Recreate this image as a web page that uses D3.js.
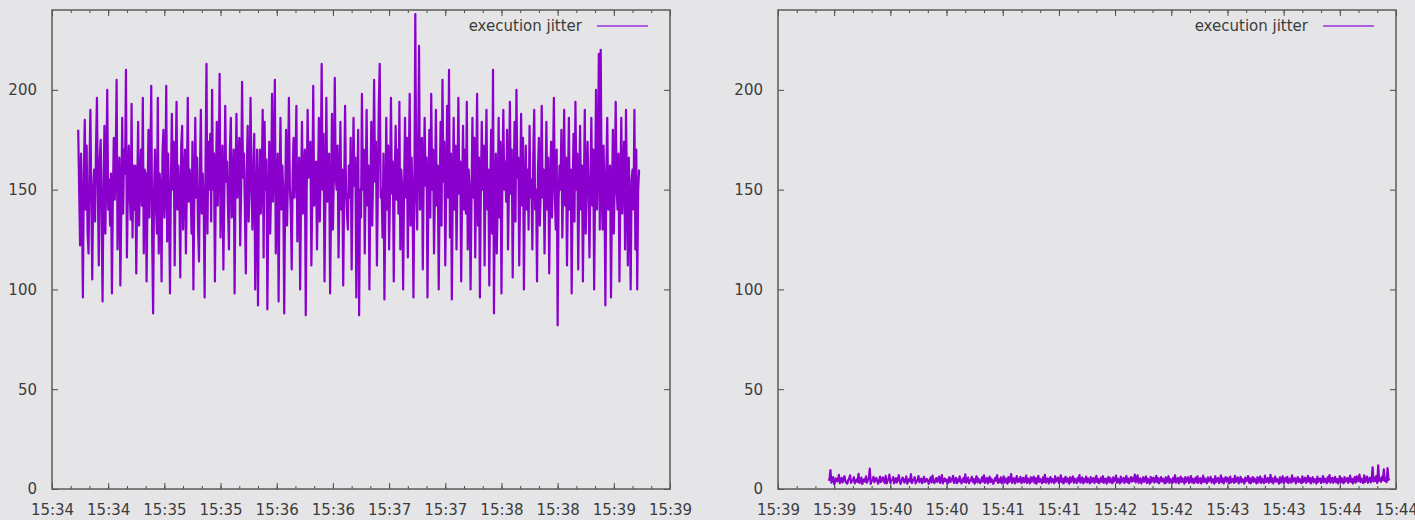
<!DOCTYPE html>
<html>
<head>
<meta charset="utf-8">
<script src="https://cdn.jsdelivr.net/npm/d3@7/dist/d3.min.js"></script>
<style>
    html, body { margin: 0; padding: 0; background: #e5e5e7; }
    svg { display: block; }
    text { font-family: "DejaVu Sans", sans-serif; font-size: 15px; fill: #3c3c3c; }
</style>
</head>
<body>
<script>
// two samples per second
const seriesName = "execution jitter";
const sampleMs = 500;

const leftStart = "15:34:14";
const leftDomain = ["15:34:00", "15:39:30"];
const leftValues = [
    180, 150, 122, 168, 140, 96, 158, 185, 140, 172, 128, 118, 160, 190, 145, 105, 150, 160, 134, 172,
    196, 148, 112, 165, 175, 138, 94, 150, 182, 128, 160, 200, 140, 155, 132, 158, 98, 146, 176, 145,
    162, 205, 120, 150, 166, 102, 140, 186, 138, 170, 158, 210, 116, 148, 172, 148, 135, 193, 126, 162,
    140, 162, 108, 150, 184, 132, 155, 170, 142, 196, 118, 160, 158, 104, 145, 180, 136, 162, 202, 124,
    88, 150, 170, 142, 128, 196, 118, 158, 150, 104, 168, 180, 136, 150, 202, 124, 168, 144, 98, 155,
    188, 150, 174, 112, 160, 194, 140, 162, 150, 106, 172, 182, 130, 155, 170, 118, 150, 196, 144, 160,
    152, 128, 174, 100, 145, 186, 146, 166, 130, 114, 160, 190, 138, 158, 142, 96, 165, 213, 128, 174,
    150, 178, 134, 200, 150, 168, 104, 155, 184, 142, 160, 208, 126, 150, 172, 110, 145, 192, 154, 164,
    140, 120, 170, 186, 136, 150, 170, 98, 155, 188, 146, 162, 176, 122, 150, 204, 156, 168, 140, 108,
    160, 182, 134, 150, 196, 160, 130, 158, 178, 100, 140, 170, 92, 150, 170, 138, 155, 190, 116, 184,
    150, 165, 90, 140, 174, 128, 150, 198, 144, 162, 205, 118, 145, 168, 94, 150, 186, 140, 162, 148,
    88, 145, 180, 132, 155, 196, 152, 140, 110, 158, 176, 146, 162, 192, 124, 150, 166, 100, 148, 184,
    138, 160, 170, 87, 150, 190, 156, 165, 174, 112, 148, 202, 142, 155, 164, 120, 150, 186, 134, 160,
    213, 150, 178, 104, 145, 196, 144, 160, 168, 98, 140, 188, 130, 158, 206, 156, 150, 172, 116, 150,
    184, 140, 160, 102, 148, 192, 150, 138, 130, 162, 146, 176, 110, 150, 186, 152, 166, 96, 150, 180,
    87, 150, 136, 198, 150, 170, 118, 155, 190, 142, 162, 100, 150, 184, 132, 160, 205, 154, 174, 112,
    150, 192, 213, 146, 150, 126, 168, 95, 140, 186, 140, 172, 120, 150, 196, 148, 164, 104, 155, 182,
    145, 170, 138, 194, 120, 160, 150, 100, 150, 186, 146, 176, 116, 160, 198, 132, 166, 150, 96, 150,
    238, 150, 130, 172, 222, 140, 146, 176, 110, 160, 186, 152, 166, 96, 150, 180, 136, 198, 150, 170,
    118, 150, 190, 142, 162, 100, 148, 184, 132, 205, 154, 174, 112, 150, 192, 146, 210, 126, 168, 95,
    150, 186, 140, 172, 120, 155, 196, 148, 164, 104, 150, 182, 140, 170, 138, 194, 120, 160, 150, 100,
    145, 186, 146, 176, 116, 155, 198, 132, 166, 96, 150, 184, 150, 172, 112, 160, 190, 140, 160, 102,
    150, 180, 128, 210, 88, 150, 168, 118, 145, 186, 136, 174, 98, 155, 190, 150, 164, 144, 180, 120,
    150, 194, 148, 170, 106, 150, 184, 134, 200, 156, 166, 112, 150, 188, 142, 176, 100, 150, 172, 140,
    160, 130, 182, 146, 155, 120, 168, 190, 140, 150, 104, 160, 176, 132, 150, 192, 146, 160, 118, 150,
    184, 140, 166, 108, 150, 174, 136, 160, 196, 148, 130, 170, 82, 145, 162, 150, 180, 126, 155, 190,
    142, 166, 112, 150, 186, 140, 160, 98, 150, 178, 134, 194, 150, 168, 110, 150, 182, 140, 162, 104,
    150, 190, 128, 160, 174, 146, 116, 155, 186, 142, 170, 100, 150, 200, 140, 160, 218, 130, 220, 150,
    130, 172, 150, 92, 160, 186, 140, 150, 162, 96, 145, 180, 128, 155, 194, 150, 140, 168, 104, 150,
    186, 138, 160, 174, 120, 190, 150, 112, 166, 140, 100, 155, 160, 140, 190, 120, 170, 100, 150, 160
];

const rightStart = "15:39:27";
const rightDomain = ["15:39:00", "15:44:30"];
const rightValues = [
    4.1, 5.0, 9.5, 3.2, 4.4, 6.0, 2.4, 3.9, 5.3, 3.8, 4.6, 7.1, 2.9, 4.2, 5.6, 3.3, 4.8, 6.4, 4.0, 3.1,
    2.7, 4.5, 5.2, 6.8, 3.1, 4.0, 4.5, 5.9, 2.8, 3.9, 4.8, 3.6, 7.6, 3.0, 4.3, 5.7, 2.5, 4.1, 4.9, 3.7,
    6.3, 3.2, 4.6, 5.1, 10.2, 2.6, 4.0, 4.4, 6.1, 3.4, 4.7, 5.5, 3.9, 2.7, 4.2, 6.2, 3.5, 4.4, 5.8, 4.2,
    3.0, 6.6, 2.8, 4.1, 5.0, 7.2, 3.1, 4.3, 4.6, 6.0, 2.9, 4.0, 5.4, 3.3, 4.6, 6.9, 4.1, 2.6, 4.3, 5.7,
    4.8, 3.2, 4.4, 6.3, 2.7, 4.0, 5.1, 3.8, 7.4, 3.0, 4.2, 4.7, 5.9, 2.8, 4.1, 4.3, 6.5, 3.4, 4.5, 5.2,
    2.9, 4.6, 6.1, 3.5, 4.2, 5.0, 4.0, 2.6, 4.4, 5.8, 3.3, 6.7, 4.2, 2.9, 4.1, 5.5, 3.6, 4.9, 6.2, 3.1,
    4.4, 7.0, 2.8, 4.0, 5.3, 3.9, 4.7, 2.7, 4.3, 6.0, 3.4, 5.1, 4.3, 6.6, 3.0, 4.2, 5.6, 2.9, 4.8, 3.7,
    6.3, 4.1, 2.8, 4.5, 5.4, 3.5, 7.3, 3.2, 4.6, 5.7, 2.9, 4.2, 4.4, 6.1, 3.6, 5.0, 2.7, 4.5, 6.4, 3.3,
    5.2, 4.0, 2.9, 4.3, 5.9, 3.7, 6.8, 3.1, 4.7, 5.5, 2.8, 4.3, 6.2, 3.4, 5.1, 3.9, 2.6, 4.2, 5.6, 4.1,
    6.9, 3.0, 4.8, 3.5, 5.8, 2.9, 4.4, 6.3, 3.2, 5.3, 4.0, 2.7, 6.0, 3.6, 4.9, 7.5, 3.1, 4.6, 5.4, 2.8,
    4.2, 6.5, 3.4, 5.0, 3.8, 6.1, 2.9, 4.7, 5.6, 3.3, 4.1, 6.7, 3.0, 5.2, 4.4, 2.8, 5.9, 3.7, 4.9, 6.2,
    3.1, 5.5, 2.7, 4.3, 6.6, 3.5, 5.1, 4.0, 2.9, 5.8, 3.6, 7.1, 3.2, 4.8, 5.3, 2.8, 4.5, 6.0, 3.3, 5.0,
    4.2, 2.9, 6.4, 3.8, 4.6, 5.7, 3.0, 4.1, 6.9, 3.4, 5.2, 2.8, 4.7, 6.1, 3.5, 5.4, 4.0, 2.7, 5.9, 3.6,
    4.8, 6.3, 3.1, 5.1, 4.3, 2.9, 5.6, 3.9, 7.0, 3.2, 4.5, 5.8, 2.8, 4.9, 3.7, 6.2, 3.3, 5.3, 4.1, 2.8,
    6.0, 3.5, 4.7, 5.5, 3.0, 4.4, 6.6, 3.4, 5.0, 2.9, 4.2, 5.7, 3.6, 6.4, 3.1, 4.8, 5.2, 2.7, 4.6, 6.1,
    3.3, 5.4, 4.0, 2.9, 5.8, 3.8, 4.5, 6.7, 3.2, 5.1, 4.3, 2.8, 6.2, 3.5, 4.9, 5.6, 3.0, 4.4, 6.5, 3.4,
    5.2, 2.9, 4.7, 6.0, 3.7, 5.5, 4.1, 7.2, 3.3, 5.0, 6.8, 3.1, 4.6, 5.3, 2.8, 4.2, 5.9, 3.6, 4.8, 6.3,
    3.0, 5.1, 4.4, 2.7, 6.1, 3.5, 4.9, 5.7, 3.2, 4.3, 6.6, 3.4, 5.4, 2.9, 4.7, 6.0, 3.8, 5.2, 4.0, 2.8,
    5.8, 3.3, 4.6, 6.4, 3.1, 5.0, 4.2, 2.9, 5.6, 3.7, 6.9, 3.2, 4.8, 5.5, 2.8, 4.4, 6.2, 3.5, 5.3, 4.1,
    2.7, 6.0, 3.6, 4.7, 5.9, 3.0, 4.3, 6.5, 3.4, 5.1, 2.9, 4.5, 5.7, 3.3, 6.3, 3.1, 4.9, 5.4, 2.8, 4.2,
    6.7, 3.5, 5.2, 4.0, 2.9, 5.8, 3.8, 4.6, 6.1, 3.2, 5.0, 4.4, 2.7, 6.4, 3.6, 4.8, 5.5, 3.0, 4.1, 6.8,
    3.4, 5.3, 2.8, 4.5, 6.0, 3.7, 5.6, 4.2, 2.9, 6.2, 3.3, 4.7, 5.1, 3.1, 6.6, 3.5, 4.9, 5.8, 2.8, 4.3,
    6.1, 3.4, 5.0, 4.1, 2.7, 5.7, 3.9, 4.6, 6.5, 3.2, 5.4, 2.9, 4.4, 6.0, 3.6, 5.2, 4.0, 2.8, 5.9, 3.3,
    4.8, 6.3, 3.0, 5.1, 4.3, 2.9, 6.7, 3.5, 4.7, 5.5, 3.1, 4.2, 7.1, 3.4, 5.3, 2.8, 4.6, 6.2, 3.7, 5.0,
    4.1, 2.7, 5.8, 3.3, 4.9, 6.4, 3.0, 4.4, 5.6, 3.6, 6.1, 2.9, 4.5, 5.2, 3.2, 6.8, 3.8, 4.7, 5.4, 2.8,
    4.3, 6.0, 3.5, 5.1, 4.0, 2.9, 6.3, 3.4, 4.8, 5.7, 3.1, 4.2, 6.6, 3.7, 5.5, 2.8, 4.6, 5.9, 3.3, 5.0,
    4.4, 2.7, 6.2, 3.6, 4.9, 5.3, 3.0, 4.1, 6.5, 3.4, 5.2, 4.3, 2.9, 5.8, 3.8, 7.0, 3.2, 4.7, 5.6, 3.1,
    4.5, 6.1, 3.5, 5.0, 2.8, 4.2, 6.4, 3.3, 5.4, 4.0, 2.9, 6.0, 3.7, 4.8, 5.5, 3.1, 4.4, 6.7, 3.6, 5.1,
    2.8, 4.6, 5.9, 3.2, 6.3, 3.9, 4.3, 7.2, 3.4, 5.2, 4.1, 2.9, 6.8, 3.5, 5.0, 6.2, 3.1, 4.7, 5.7, 3.3,
    4.4, 10.8, 3.8, 5.6, 4.0, 6.5, 3.0, 11.9, 4.2, 5.3, 3.6, 6.1, 4.4, 9.8, 4.0, 5.5, 3.4, 10.5, 4.6, 5.3
];

const yDomain = [0, 240];
const yTicks = [0, 50, 100, 150, 200];

const wSvg = 1415, hSvg = 520;
const lineColor = "#8a00cc";
const parseTime = d3.utcParse("%H:%M:%S");
const fmt = d3.utcFormat("%H:%M");

const svg = d3.select("body").append("svg")
    .attr("width", wSvg)
    .attr("height", hSvg);

// the original is a soft, slightly blurred screenshot
svg.append("defs").append("filter")
    .attr("id", "soft")
    .append("feGaussianBlur")
    .attr("stdDeviation", 0.5);

function drawPanel (left, right, start, domain, values) {
    const top = 10, bottom = 489;
    const t0 = parseTime(start);
    const data = values.map((v, i) => ({ t: d3.utcMillisecond.offset(t0, i * sampleMs), v: v }));

    const x = d3.scaleUtc()
        .domain(domain.map(parseTime))
        .range([left, right]);
    const y = d3.scaleLinear()
        .domain(yDomain)
        .range([bottom, top]);

    const end = d3.utcSecond.offset(x.domain()[1], 1);
    const major = d3.utcSecond.every(30).range(x.domain()[0], end);
    const minor = d3.utcSecond.every(10).range(x.domain()[0], end);

    const g = svg.append("g");

    // minor ticks bottom / top
    g.append("g").attr("transform", `translate(0,${bottom})`)
        .call(d3.axisBottom(x).tickValues(minor).tickSize(-3).tickFormat(""));
    g.append("g").attr("transform", `translate(0,${top})`)
        .call(d3.axisTop(x).tickValues(minor).tickSize(-3).tickFormat(""));

    // major ticks with labels
    g.append("g").attr("transform", `translate(0,${bottom})`)
        .call(d3.axisBottom(x).tickValues(major).tickSize(-6).tickPadding(15).tickFormat(fmt));
    g.append("g").attr("transform", `translate(0,${top})`)
        .call(d3.axisTop(x).tickValues(major).tickSize(-6).tickFormat(""));

    g.append("g").attr("transform", `translate(${left},0)`)
        .call(d3.axisLeft(y).tickValues(yTicks).tickSize(-6).tickPadding(15));
    g.append("g").attr("transform", `translate(${right},0)`)
        .call(d3.axisRight(y).tickValues(yTicks).tickSize(-6).tickFormat(""));

    g.selectAll(".domain").remove();
    g.selectAll(".tick line").attr("stroke", "#4a4a4a");
    g.selectAll(".tick text").attr("fill", "#3c3c3c")
        .style("font-family", "'DejaVu Sans', sans-serif").style("font-size", "15px");

    const line = d3.line()
        .x(d => x(d.t))
        .y(d => y(d.v));

    g.append("path")
        .datum(data)
        .attr("fill", "none")
        .attr("stroke", lineColor)
        .attr("stroke-width", 2.2)
        .attr("stroke-linejoin", "round")
        .attr("filter", "url(#soft)")
        .attr("d", line);

    g.append("rect")
        .attr("x", left)
        .attr("y", top)
        .attr("width", right - left)
        .attr("height", bottom - top)
        .attr("fill", "none")
        .attr("stroke", "#5a5a5a")
        .attr("stroke-width", 1.5);

    // legend
    g.append("text")
        .attr("x", right - 88)
        .attr("y", 31)
        .attr("text-anchor", "end")
        .text(seriesName);
    g.append("line")
        .attr("x1", right - 73)
        .attr("x2", right - 22)
        .attr("y1", 26)
        .attr("y2", 26)
        .attr("stroke", "#9a30d8")
        .attr("stroke-width", 1.5);
}

drawPanel(52, 670, leftStart, leftDomain, leftValues);
drawPanel(778, 1396, rightStart, rightDomain, rightValues);
</script>
</body>
</html>
